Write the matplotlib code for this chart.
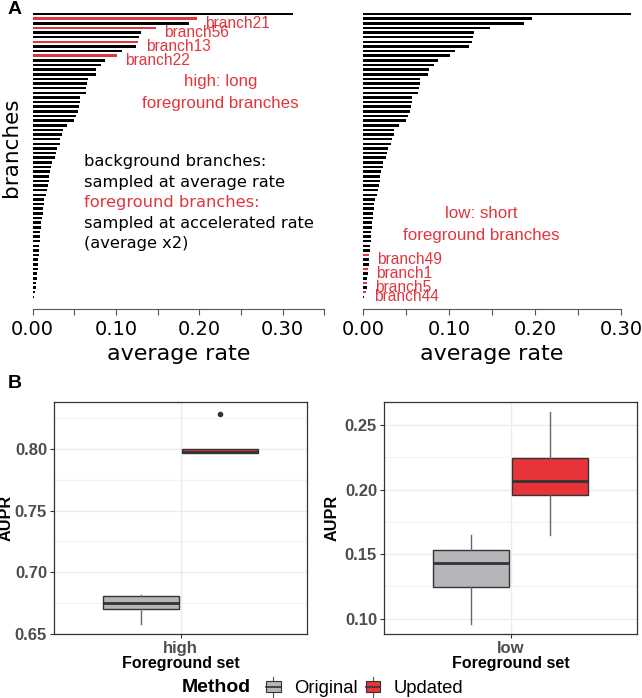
import numpy as np
import matplotlib.pyplot as plt
from matplotlib.patches import Rectangle, Patch
from matplotlib.lines import Line2D
from matplotlib.legend_handler import HandlerBase

# branch rates, sorted from longest to shortest (same branches in both panels)
rates = [0.312, 0.197, 0.1876, 0.1478, 0.1295, 0.1272, 0.1268, 0.1234, 0.107, 0.101,
         0.087, 0.0825, 0.076, 0.0755, 0.0663, 0.0655, 0.0645, 0.0636, 0.0572, 0.0566,
         0.0552, 0.0547, 0.0525, 0.0495, 0.0414, 0.0358, 0.0356, 0.0332, 0.0323, 0.0288,
         0.0281, 0.0264, 0.0226, 0.0224, 0.0206, 0.0198, 0.019, 0.0186, 0.0175, 0.0155,
         0.0137, 0.0130, 0.0124, 0.0118, 0.0112, 0.0105, 0.0099, 0.0093, 0.0088, 0.0084,
         0.0079, 0.0076, 0.0071, 0.0067, 0.0063, 0.0059, 0.0052, 0.0048, 0.0043, 0.0038,
         0.0027, 0.0012]
high_rows = [1, 3, 6, 9]
high_names = ["branch21", "branch56", "branch13", "branch22"]
low_rows = [52, 55, 58, 60]
low_names = ["branch49", "branch1", "branch5", "branch44"]

left_ticks = [0.0, 0.05, 0.10, 0.15, 0.20, 0.25, 0.30, 0.35]
left_ticklabels = ["0.00", "", "0.10", "", "0.20", "", "0.30", ""]
right_ticks = [0.0, 0.05, 0.10, 0.15, 0.20, 0.25, 0.30]
right_ticklabels = ["0.00", "", "0.10", "", "0.20", "", "0.30"]

block_lines = ["background branches:", "sampled at average rate", "foreground branches:",
               "sampled at accelerated rate", "(average x2)"]

# AUPR boxplot summaries
methods = ["Original", "Updated"]
high_stats = [dict(whislo=0.6578, q1=0.6696, med=0.6747, q3=0.6806, whishi=0.6812, fliers=[]),
              dict(whislo=0.7968, q1=0.7968, med=0.798, q3=0.800, whishi=0.800, fliers=[0.829])]
low_stats = [dict(whislo=0.0961, q1=0.1247, med=0.1434, q3=0.1532, whishi=0.165, fliers=[]),
             dict(whislo=0.1645, q1=0.1959, med=0.2069, q3=0.2247, whishi=0.260, fliers=[])]

RED = "#E0363D"
BOXCOL = ["#B4B6B9", "#E8333A"]
W, H = 642, 698
fig = plt.figure(figsize=(W / 100, H / 100), dpi=100)


def px_axes(x0, y0, x1, y1):
    return fig.add_axes([x0 / W, 1 - y1 / H, (x1 - x0) / W, (y1 - y0) / H])


def bar_panel(ax, red_rows, xmax, ticks, ticklabels):
    y = np.arange(len(rates))
    cols = ["black"] * len(rates)
    for r in red_rows:
        cols[r] = RED
    ax.barh(y, rates, height=0.55, color=cols, clip_on=False)
    ax.set_ylim(63.7, -0.5)
    ax.set_xlim(0, xmax)
    for s in ["left", "top", "right"]:
        ax.spines[s].set_visible(False)
    ax.spines["bottom"].set_color("#555555")
    ax.spines["bottom"].set_bounds(ticks[0], ticks[-1])
    ax.set_yticks([])
    ax.set_xticks(ticks)
    ax.set_xticklabels(ticklabels, fontsize=14)
    ax.tick_params(axis="x", length=4, color="#555555", pad=4)
    ax.set_xlabel("average rate", fontsize=16, labelpad=3)


ax1 = px_axes(32.7, 11.7, 324.4, 309.3)
bar_panel(ax1, high_rows, 0.35, left_ticks, left_ticklabels)
ax1.set_ylabel("branches", fontsize=15.5)
ax1.yaxis.set_label_coords(-0.040, 0.545)
for r, name in zip(high_rows, high_names):
    ax1.annotate(name, (rates[r], r), xytext=(5.8, -3.2), textcoords="offset points",
                 ha="left", va="center", color=RED, fontsize=11.2, family="Liberation Sans")
ax1.text(0.225, 16.9, "high: long\nforeground branches", ha="center", va="center",
         color=RED, fontsize=12.2, family="Liberation Sans", linespacing=1.6)
for k, line in enumerate(block_lines):
    ax1.text(0.061, 31.9 + 4.42 * k, line, ha="left", va="center", fontsize=11.7,
             color=RED if k == 2 else "black")

ax2 = px_axes(363.3, 11.7, 620.9, 309.3)
bar_panel(ax2, low_rows, 0.30, right_ticks, right_ticklabels)
for r, name in zip(low_rows, low_names):
    ax2.annotate(name, (rates[r], r), xytext=(5.8, -3.2), textcoords="offset points",
                 ha="left", va="center", color=RED, fontsize=11.2, family="Liberation Sans")
ax2.text(0.137, 45.4, "low: short\nforeground branches", ha="center", va="center",
         color=RED, fontsize=12.2, family="Liberation Sans", linespacing=1.6)

fig.text(8 / W, 1 - 10 / H, "A", fontsize=14, fontweight="bold", family="Liberation Sans",
         va="center", ha="left")
fig.text(8 / W, 1 - 383 / H, "B", fontsize=14, fontweight="bold", family="Liberation Sans",
         va="center", ha="left")


def box_panel(ax, stats, label, ylim, major, minor, ylab_x):
    pos = [1 - 0.1875, 1 + 0.1875]
    for st, p, c in zip(stats, pos, BOXCOL):
        ax.bxp([st], positions=[p], widths=0.36, patch_artist=True, showcaps=False,
               boxprops=dict(facecolor=c, edgecolor="#333333", lw=1),
               medianprops=dict(color="#333333", lw=2),
               whiskerprops=dict(color="#666666", lw=1),
               flierprops=dict(marker="o", ms=3, mfc="#333333", mec="#333333"))
    ax.set_xlim(0.4, 1.6)
    ax.set_ylim(*ylim)
    ax.set_yticks(major)
    ax.set_yticks(minor, minor=True)
    ax.set_xticks([1])
    ax.set_xticklabels([label])
    ax.grid(True, which="major", color="#EBEBEB", lw=1)
    ax.grid(True, which="minor", axis="y", color="#F2F2F2", lw=0.8)
    ax.set_axisbelow(True)
    for s in ax.spines.values():
        s.set_color("#333333")
        s.set_linewidth(0.9)
    ax.tick_params(which="major", length=3, color="#333333", labelsize=12, pad=2,
                   labelcolor="#4D4D4D")
    ax.tick_params(which="minor", length=0)
    for t in ax.get_xticklabels() + ax.get_yticklabels():
        t.set_fontweight("bold")
        t.set_family("Liberation Sans")
    ax.set_ylabel("AUPR", fontsize=11.7, fontweight="bold", family="Liberation Sans")
    ax.yaxis.set_label_coords(ylab_x, 0.5)
    ax.set_xlabel("Foreground set", fontsize=11.5, fontweight="bold", family="Liberation Sans",
                  labelpad=0)


ax3 = px_axes(54, 401.7, 307.3, 634.3)
box_panel(ax3, high_stats, "high", (0.6494, 0.8386), [0.65, 0.70, 0.75, 0.80],
          [0.675, 0.725, 0.775, 0.825], -0.158)
ax4 = px_axes(384, 401.7, 637.3, 634.3)
box_panel(ax4, low_stats, "low", (0.0878, 0.2682), [0.10, 0.15, 0.20, 0.25],
          [0.125, 0.175, 0.225], -0.174)


class BoxKey(HandlerBase):
    def create_artists(self, legend, orig_handle, xdescent, ydescent, width, height,
                       fontsize, trans):
        x0, y0 = -xdescent, -ydescent
        fc = orig_handle.get_facecolor()
        box = Rectangle((x0, y0 + 0.15 * height), width, 0.7 * height, facecolor=fc,
                        edgecolor="#333333", lw=0.8, transform=trans)
        med = Line2D([x0, x0 + width], [y0 + 0.5 * height] * 2, color="#333333", lw=1.2,
                     transform=trans)
        wt = Line2D([x0 + width / 2] * 2, [y0 + 0.85 * height, y0 + 1.15 * height],
                    color="#555555", lw=0.8, transform=trans)
        wb = Line2D([x0 + width / 2] * 2, [y0 - 0.15 * height, y0 + 0.15 * height],
                    color="#555555", lw=0.8, transform=trans)
        return [wt, wb, box, med]


handles = [Patch(facecolor=c, label=m) for c, m in zip(BOXCOL, methods)]
fig.text(181.7 / W, 1 - 688 / H, "Method", fontsize=14, fontweight="bold",
         family="Liberation Sans", va="center", ha="left")
fig.legend(handles=handles, loc="center left", bbox_to_anchor=(253 / W, 1 - 688 / H),
           ncol=2, frameon=False, handler_map={Patch: BoxKey()},
           prop={"family": "Liberation Sans", "size": 13.3}, handlelength=0.8,
           handleheight=0.9, handletextpad=0.7, columnspacing=0.45, borderpad=0.2)

fig.savefig("out.png", dpi=100)
